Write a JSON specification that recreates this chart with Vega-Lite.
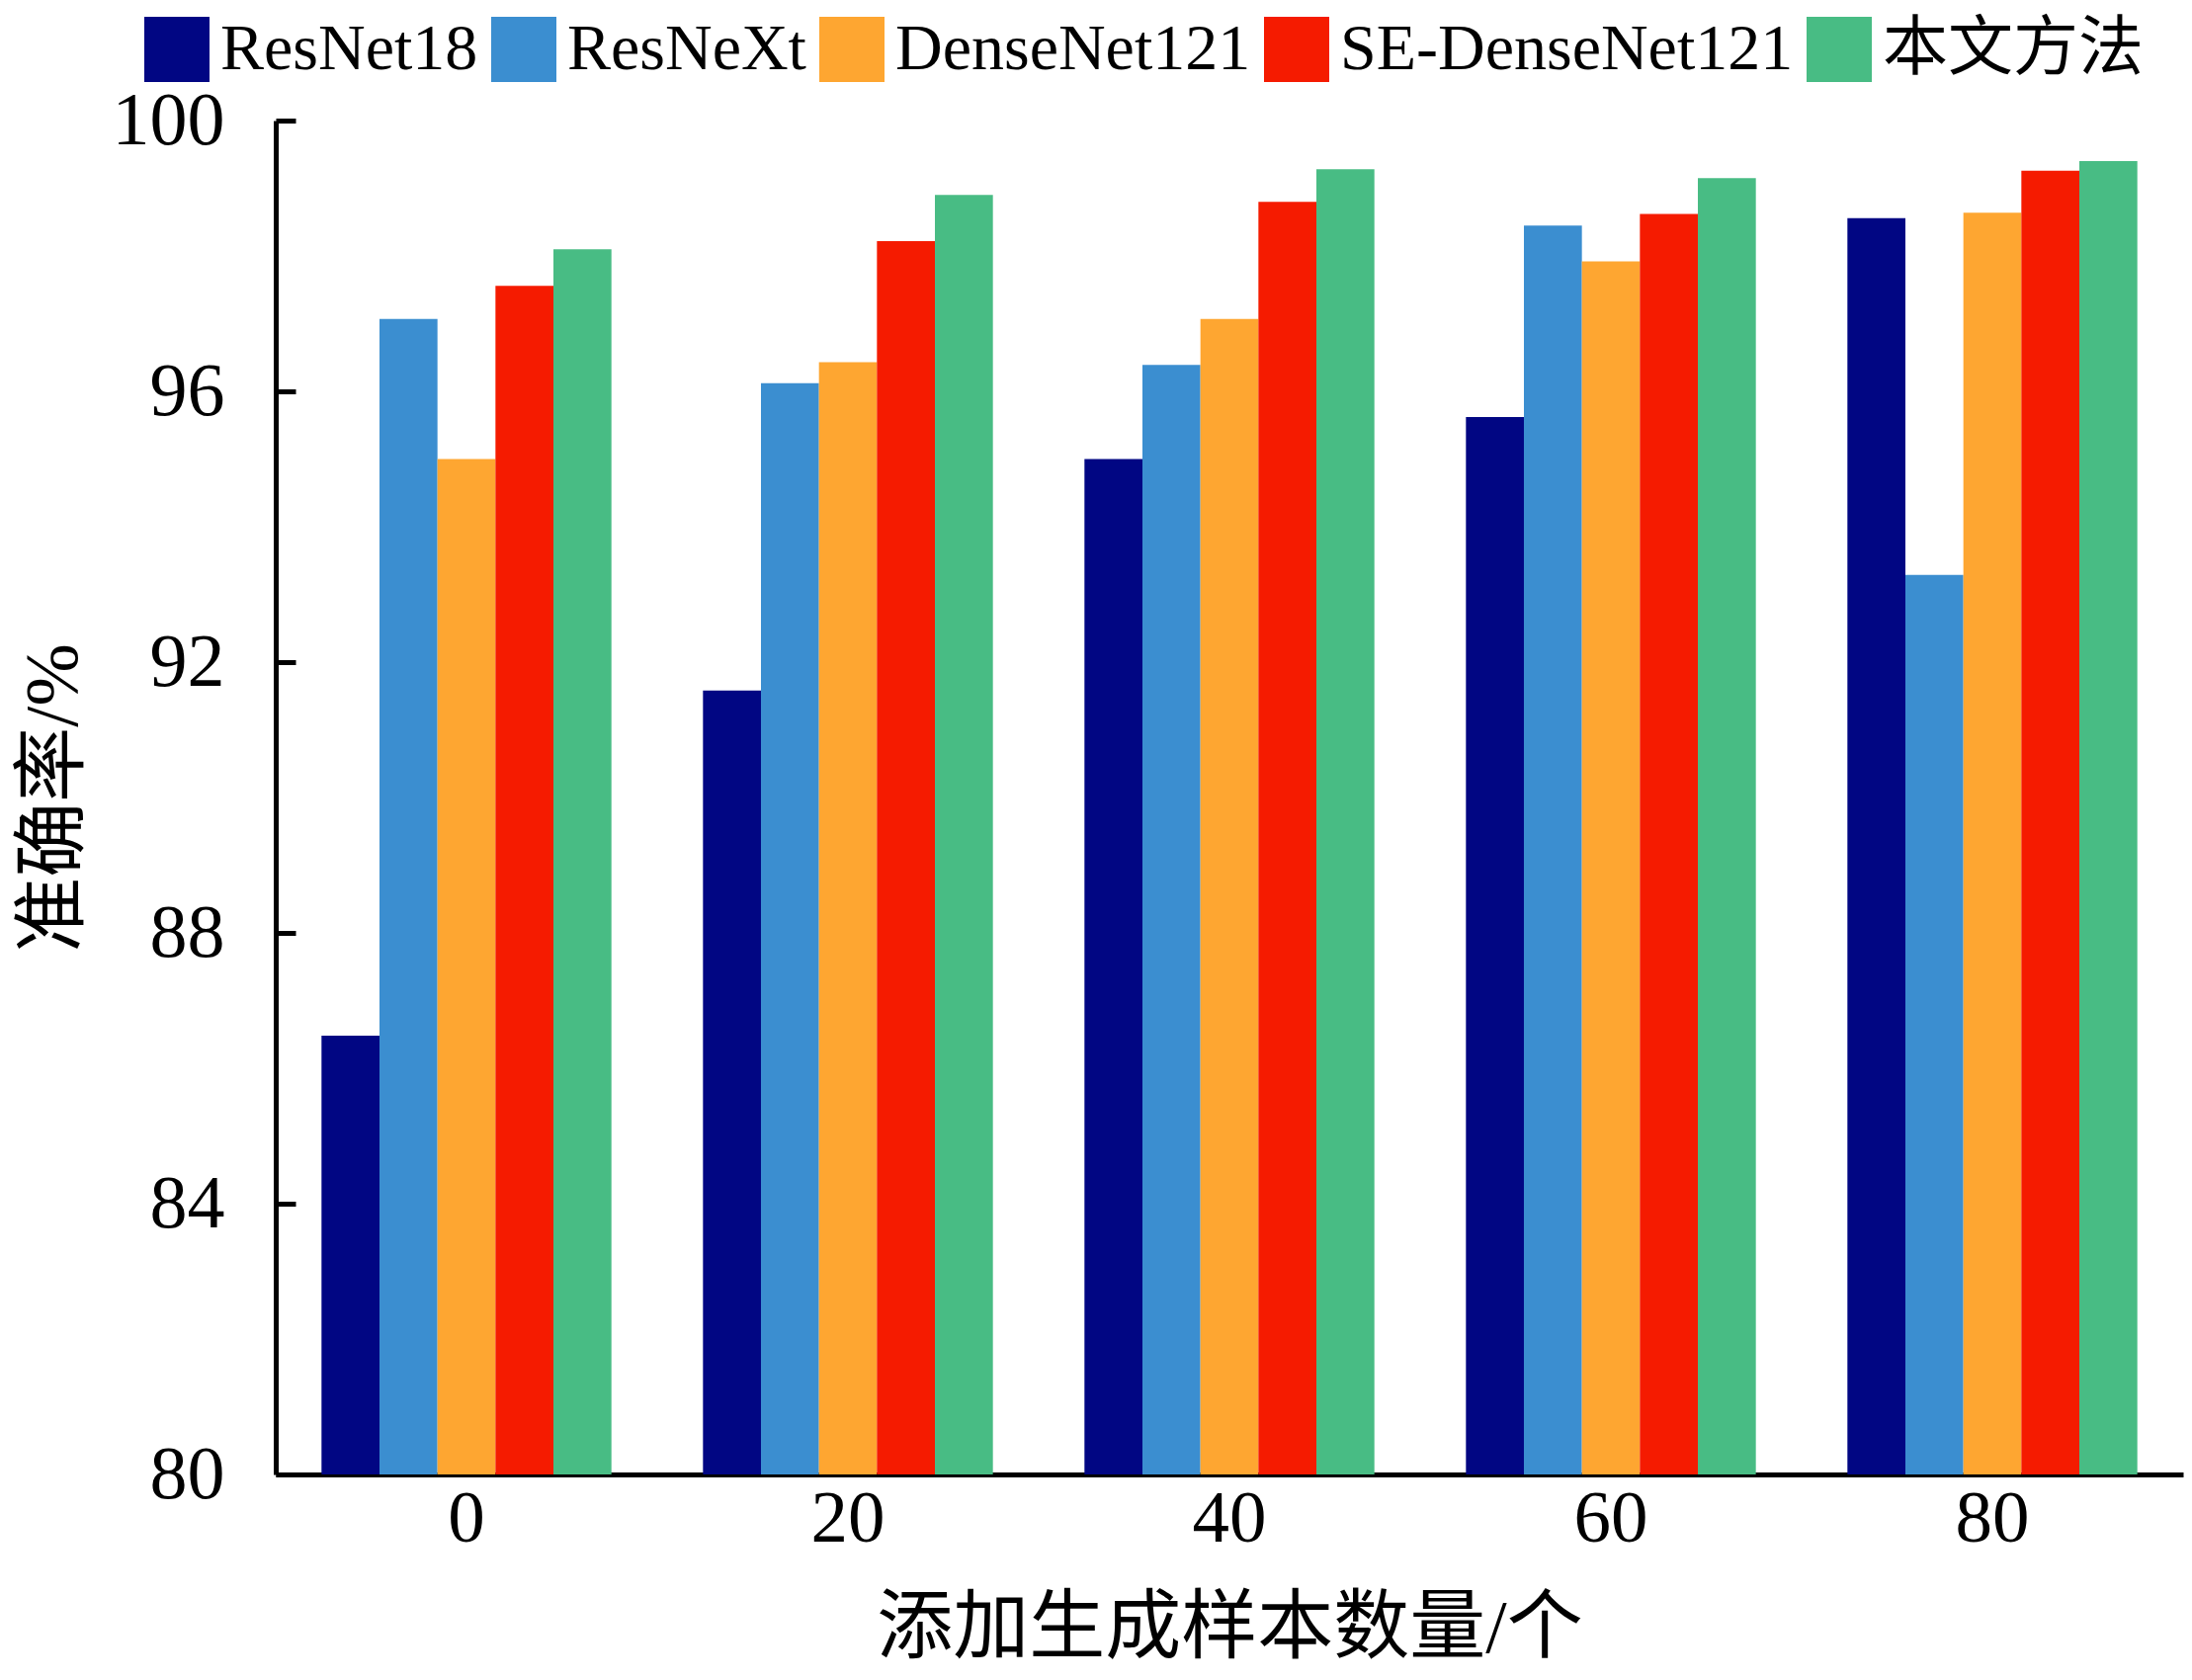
{
  "$schema": "https://vega.github.io/schema/vega-lite/v6.json",
  "width": 1930,
  "height": 1370,
  "autosize": {"type": "none"},
  "padding": {"left": 279, "top": 122, "right": 9, "bottom": 208},
  "background": "white",
  "data": {"values": [
    {"n": "0", "model": "ResNet18", "acc": 86.48},
    {"n": "0", "model": "ResNeXt", "acc": 97.07},
    {"n": "0", "model": "DenseNet121", "acc": 95.0},
    {"n": "0", "model": "SE-DenseNet121", "acc": 97.56},
    {"n": "0", "model": "本文方法", "acc": 98.1},
    {"n": "20", "model": "ResNet18", "acc": 91.58},
    {"n": "20", "model": "ResNeXt", "acc": 96.12},
    {"n": "20", "model": "DenseNet121", "acc": 96.43},
    {"n": "20", "model": "SE-DenseNet121", "acc": 98.22},
    {"n": "20", "model": "本文方法", "acc": 98.9},
    {"n": "40", "model": "ResNet18", "acc": 95.0},
    {"n": "40", "model": "ResNeXt", "acc": 96.39},
    {"n": "40", "model": "DenseNet121", "acc": 97.07},
    {"n": "40", "model": "SE-DenseNet121", "acc": 98.8},
    {"n": "40", "model": "本文方法", "acc": 99.28},
    {"n": "60", "model": "ResNet18", "acc": 95.62},
    {"n": "60", "model": "ResNeXt", "acc": 98.45},
    {"n": "60", "model": "DenseNet121", "acc": 97.92},
    {"n": "60", "model": "SE-DenseNet121", "acc": 98.62},
    {"n": "60", "model": "本文方法", "acc": 99.15},
    {"n": "80", "model": "ResNet18", "acc": 98.56},
    {"n": "80", "model": "ResNeXt", "acc": 93.29},
    {"n": "80", "model": "DenseNet121", "acc": 98.64},
    {"n": "80", "model": "SE-DenseNet121", "acc": 99.26},
    {"n": "80", "model": "本文方法", "acc": 99.4}
  ]},
  "mark": {"type": "bar"},
  "encoding": {
    "x": {
      "field": "n", "type": "nominal", "sort": ["0", "20", "40", "60", "80"],
      "scale": {"paddingInner": 0.24, "paddingOuter": 0.12},
      "axis": {
        "title": "添加生成样本数量/个",
        "labelAngle": 0,
        "ticks": false,
        "domainColor": "black", "domainWidth": 5,
        "labelFont": "Liberation Serif", "labelFontSize": 75, "labelColor": "black", "labelPadding": 8,
        "titleFont": "Liberation Serif, Noto Sans CJK SC", "titleFontSize": 77, "titleFontWeight": "normal", "titleColor": "black", "titlePadding": 36
      }
    },
    "xOffset": {"field": "model", "type": "nominal", "sort": ["ResNet18", "ResNeXt", "DenseNet121", "SE-DenseNet121", "本文方法"], "scale": {"paddingInner": 0, "paddingOuter": 0}},
    "y": {
      "field": "acc", "type": "quantitative",
      "scale": {"domain": [80, 100], "zero": false, "nice": false},
      "axis": {
        "title": "准确率/%",
        "values": [80, 84, 88, 92, 96, 100],
        "grid": false,
        "domainColor": "black", "domainWidth": 5,
        "tickColor": "black", "tickWidth": 5, "tickSize": -20,
        "labelFont": "Liberation Serif", "labelFontSize": 76, "labelColor": "black", "labelPadding": 72,
        "titleFont": "Liberation Serif, Noto Sans CJK SC", "titleFontSize": 76, "titleFontWeight": "normal", "titleColor": "black", "titlePadding": 20
      }
    },
    "y2": {"datum": 80},
    "color": {
      "field": "model", "type": "nominal",
      "sort": ["ResNet18", "ResNeXt", "DenseNet121", "SE-DenseNet121", "本文方法"],
      "scale": {"domain": ["ResNet18", "ResNeXt", "DenseNet121", "SE-DenseNet121", "本文方法"], "range": ["#010683", "#3b8ed0", "#fea631", "#f51b00", "#48bc84"]},
      "legend": {
        "title": null, "orient": "none", "direction": "horizontal",
        "legendX": -133, "legendY": -105,
        "symbolType": "square", "symbolSize": 4356, "symbolStrokeWidth": 0, "symbolOpacity": 1,
        "labelFont": "Liberation Serif, Noto Sans CJK SC", "labelFontSize": 66, "labelColor": "black",
        "labelOffset": 11, "columnPadding": 13, "padding": 0, "labelLimit": 1000
      }
    }
  },
  "config": {"view": {"stroke": null}}
}
